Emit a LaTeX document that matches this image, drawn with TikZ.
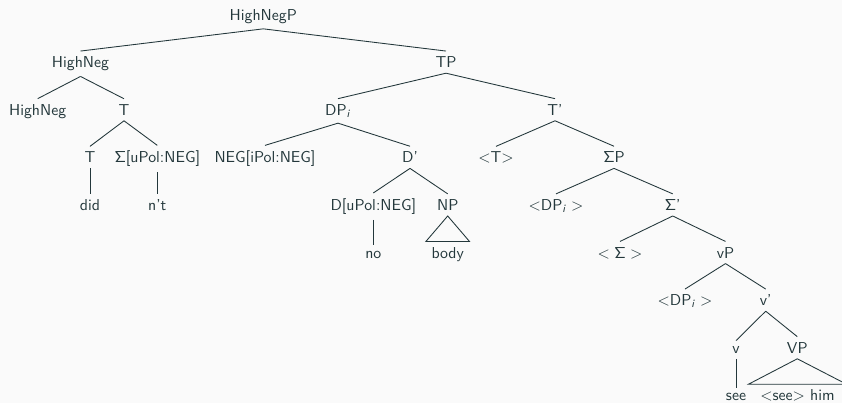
\documentclass[tikz,border=0pt]{standalone}
\definecolor{fg}{HTML}{23373B}
\definecolor{bg}{HTML}{FAFAFA}
\begin{document}
\begin{tikzpicture}[x=0.6329pt,y=-0.6329pt,
  every node/.style={font=\sffamily, text=fg, anchor=base, inner sep=0.3333em},
  branch/.style={draw=fg, line width=0.55pt},
  roof/.style={draw=fg, line width=0.55pt, line join=miter}]
\fill[bg] (0,0) rectangle (842,403);
\useasboundingbox (0,0) rectangle (842,403);

% level 0
\node (hnp) at (263.3,20) {HighNegP};
% level 1
\node (hn1) at (80.5,67.6) {HighNeg};
\node (tp) at (446,67.6) {TP};
% level 2
\node (hn2) at (37.7,115.2) {HighNeg};
\node (t1) at (124,115.2) {T};
\node (dp) at (338,115.2) {DP\textsubscript{\textit{i}}};
\node (tbar) at (555,115.2) {T'};
% level 3
\node (t2) at (90,162.8) {T};
\node (sig) at (157.3,162.8) {$\mathsf{\Sigma}$[uPol:NEG]};
\node (neg) at (265,162.8) {NEG[iPol:NEG]};
\node (dbar) at (410,162.8) {D'};
\node (ttr) at (496,162.8) {$<$T$>$};
\node (sp) at (614,162.8) {$\mathsf{\Sigma}$P};
% level 4
\node (did) at (90,210.4) {did};
\node (nt) at (157.3,210.4) {n't};
\node (d) at (373.3,210.4) {D[uPol:NEG]};
\node (np) at (447.7,210.4) {NP};
\node (dptra) at (556,210.4) {$<$DP\textsubscript{\textit{i}}\hspace{0.28em}$>$};
\node (sbar) at (672.7,210.4) {$\mathsf{\Sigma}$'};
% level 5
\node (no) at (373.3,258) {no};
\node (body) at (447.7,258) {body};
\node (str) at (620,258) {$<\mathsf{\Sigma}>$};
\node (vsp) at (725.5,258) {vP};
% level 6
\node (dptrb) at (685,305.6) {$<$DP\textsubscript{\textit{i}}\hspace{0.28em}$>$};
\node (vbar) at (765.7,305.6) {v'};
% level 7
\node (v) at (736,353.2) {v};
\node (bigvp) at (797.3,353.2) {VP};
% level 8
\node (see) at (736,400.8) {see};
\node (seehim) at (797.5,400.8) {$<$see$>$ him};

% branches
\draw[branch] (hnp.south) -- (hn1.north);
\draw[branch] (hnp.south) -- (tp.north);
\draw[branch] (hn1.south) -- (hn2.north);
\draw[branch] (hn1.south) -- (t1.north);
\draw[branch] (t1.south) -- (t2.north);
\draw[branch] (t1.south) -- (sig.north);
\draw[branch] (t2.south) -- (did.north);
\draw[branch] (sig.south) -- (nt.north);
\draw[branch] (tp.south) -- (dp.north);
\draw[branch] (tp.south) -- (tbar.north);
\draw[branch] (dp.south) -- (neg.north);
\draw[branch] (dp.south) -- (dbar.north);
\draw[branch] (dbar.south) -- (d.north);
\draw[branch] (dbar.south) -- (np.north);
\draw[branch] (d.south) -- (no.north);
\draw[branch] (tbar.south) -- (ttr.north);
\draw[branch] (tbar.south) -- (sp.north);
\draw[branch] (sp.south) -- (dptra.north);
\draw[branch] (sp.south) -- (sbar.north);
\draw[branch] (sbar.south) -- (str.north);
\draw[branch] (sbar.south) -- (vsp.north);
\draw[branch] (vsp.south) -- (dptrb.north);
\draw[branch] (vsp.south) -- (vbar.north);
\draw[branch] (vbar.south) -- (v.north);
\draw[branch] (vbar.south) -- (bigvp.north);
\draw[branch] (v.south) -- (see.north);

% roofs over unanalysed constituents
\draw[roof] (np.south) -- (body.north west) -- (body.north east) -- cycle;
\draw[roof] (bigvp.south) -- ([xshift=-4]seehim.north west) -- ([xshift=4]seehim.north east) -- cycle;
\end{tikzpicture}
\end{document}
